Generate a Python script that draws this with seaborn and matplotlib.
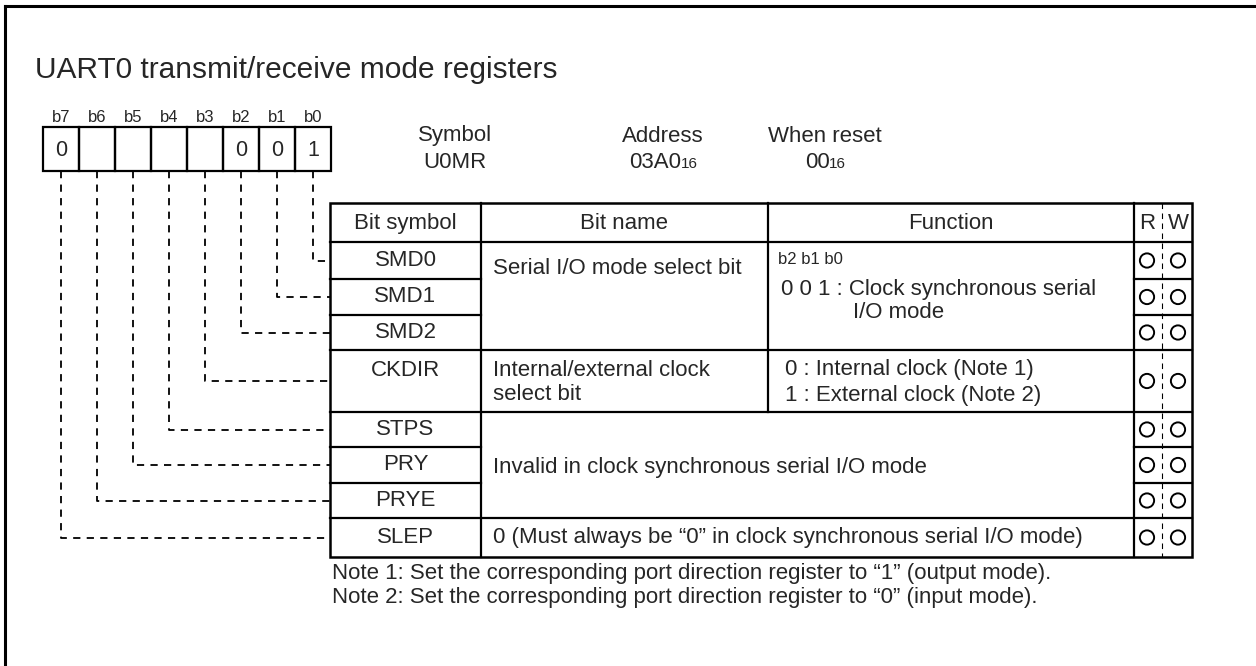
import matplotlib
matplotlib.use('Agg')
import matplotlib.pyplot as plt
import seaborn as sns
import pandas as pd

# register description
title = 'UART0 transmit/receive mode registers'
bit_labels = ['b7', 'b6', 'b5', 'b4', 'b3', 'b2', 'b1', 'b0']
reg_values = ['0', '', '', '', '', '0', '0', '1']
info_heads = ['Symbol', 'Address', 'When reset']
info_values = ['U0MR', '03A0', '00']
info_subs = ['', '16', '16']
col_heads = ['Bit symbol', 'Bit name', 'Function', 'R', 'W']
bit_symbols = ['SMD0', 'SMD1', 'SMD2', 'CKDIR', 'STPS', 'PRY', 'PRYE', 'SLEP']
bit_numbers = [0, 1, 2, 3, 4, 5, 6, 7]
readable = [True, True, True, True, True, True, True, True]
writable = [True, True, True, True, True, True, True, True]
smd_name = 'Serial I/O mode select bit'
smd_func_head = 'b2 b1 b0'
smd_func = ['0 0 1 : Clock synchronous serial', 'I/O mode']
ckdir_name = ['Internal/external clock', 'select bit']
ckdir_func = ['0 : Internal clock (Note 1)', '1 : External clock (Note 2)']
invalid_text = 'Invalid in clock synchronous serial I/O mode'
slep_text = '0 (Must always be \u201c0\u201d in clock synchronous serial I/O mode)'
notes = ['Note 1: Set the corresponding port direction register to \u201c1\u201d (output mode).',
         'Note 2: Set the corresponding port direction register to \u201c0\u201d (input mode).']

# layout (pixels)
W, H = 1256, 666
reg_x0, cell_w, reg_y0, reg_y1 = 43, 36, 127, 171
col_x = [330, 481, 768, 1134, 1162, 1192]
head_y0 = 203
row_y = [242, 279, 315, 350, 412, 447, 483, 518, 557]
FS = 16

sns.set_theme(style='white')
plt.rcParams['font.family'] = ['Liberation Sans', 'DejaVu Sans']

fig = plt.figure(figsize=(W / 100, H / 100), dpi=100)
ax = fig.add_axes([0, 0, 1, 1])
ax.set_xlim(0, W)
ax.set_ylim(H, 0)
ax.axis('off')

def line(x, y, lw=1.6, ls='-'):
    ax.plot(x, y, color='black', lw=lw, ls=ls, solid_capstyle='projecting')

# outer frame (only top and left visible)
line([5, 5], [6, H], lw=2.2)
line([5, W], [6, 6], lw=2.2)

ax.text(35, 70, title, fontsize=21.5, ha='left', va='center')

# register cells
for i, (lab, val) in enumerate(zip(bit_labels, reg_values)):
    x0 = reg_x0 + i * cell_w
    ax.add_patch(plt.Rectangle((x0, reg_y0), cell_w, reg_y1 - reg_y0,
                               fill=False, ec='black', lw=1.6))
    ax.text(x0 + cell_w / 2, 118, lab, fontsize=12, ha='center', va='center')
    ax.text(x0 + cell_w / 2, 150, val, fontsize=15.5, ha='center', va='center')

# symbol / address / reset
info_x = [455, 663, 825]
for cx, head, val, sub in zip(info_x, info_heads, info_values, info_subs):
    ax.text(cx, 136, head, fontsize=FS, ha='center', va='center')
    t = ax.text(cx - (8 if sub else 0), 168, val, fontsize=FS, ha='center', va='baseline')
    if sub:
        ax.annotate(sub, xy=(1, 168), xycoords=(t, 'data'), fontsize=11,
                    ha='left', va='baseline')

# table frame
top, bot = head_y0, row_y[-1]
ax.add_patch(plt.Rectangle((col_x[0], top), col_x[-1] - col_x[0], bot - top,
                           fill=False, ec='black', lw=1.8))
line([col_x[1], col_x[1]], [top, bot])
line([col_x[2], col_x[2]], [top, row_y[4]])
line([col_x[3], col_x[3]], [top, bot])
line([col_x[4], col_x[4]], [top, bot], lw=0.8, ls=(0, (5, 4)))
for k in [0, 3, 4, 7]:
    line([col_x[0], col_x[-1]], [row_y[k], row_y[k]])
for k in [1, 2, 5, 6]:
    line([col_x[0], col_x[1]], [row_y[k], row_y[k]])
    line([col_x[3], col_x[-1]], [row_y[k], row_y[k]])

# headers
head_cy = (head_y0 + row_y[0]) / 2 + 1
head_x = [(col_x[0] + col_x[1]) / 2, (col_x[1] + col_x[2]) / 2,
          (col_x[2] + col_x[3]) / 2, (col_x[3] + col_x[4]) / 2 - 1,
          (col_x[4] + col_x[5]) / 2 + 1]
for hx, h in zip(head_x, col_heads):
    ax.text(hx, head_cy, h, fontsize=FS, ha='center', va='center')

# bit symbols and leader lines
row_cy = [(a + b) / 2 for a, b in zip(row_y[:-1], row_y[1:])]
sym_cy = list(row_cy)
sym_cy[3] = 370
for sym, b, cy, ly in zip(bit_symbols, bit_numbers, sym_cy, row_cy):
    ax.text(head_x[0], cy, sym, fontsize=FS, ha='center', va='center')
    lx = reg_x0 + (7 - b) * cell_w + cell_w / 2
    ax.plot([lx, lx, col_x[0]], [reg_y1, ly, ly], color='black', lw=1.3,
            ls=(0, (4, 3.5)))

# names and functions
tx = col_x[1] + 12
ax.text(tx, 268, smd_name, fontsize=FS, ha='left', va='center')
ax.text(col_x[2] + 10, 259, smd_func_head, fontsize=12, ha='left', va='center')
ax.text(col_x[2] + 13, 290, smd_func[0], fontsize=FS, ha='left', va='center')
ax.text(col_x[2] + 85, 313, smd_func[1], fontsize=FS, ha='left', va='center')
for j, (n, f) in enumerate(zip(ckdir_name, ckdir_func)):
    ax.text(tx, 370 + 25 * j, n, fontsize=FS, ha='left', va='center')
    ax.text(col_x[2] + 17, 370 + 25 * j, f, fontsize=FS, ha='left', va='center')
ax.text(tx, 467, invalid_text, fontsize=FS, ha='left', va='center')
ax.text(tx, row_cy[7], slep_text, fontsize=FS, ha='left', va='center')

# R / W marks
rw = pd.DataFrame({
    'x': [head_x[3] if r else None for r in readable] + [head_x[4] if w else None for w in writable],
    'y': row_cy + row_cy,
}).dropna()
sns.scatterplot(data=rw, x='x', y='y', ax=ax, s=105, marker='o',
                fc='none', ec='black', linewidth=1.4, legend=False)
ax.set_xlim(0, W)
ax.set_ylim(H, 0)
ax.axis('off')

# notes
for j, n in enumerate(notes):
    ax.text(col_x[0] + 2, 574 + 23 * j, n, fontsize=FS, ha='left', va='center')

fig.savefig('out.png', dpi=100, facecolor='white')
